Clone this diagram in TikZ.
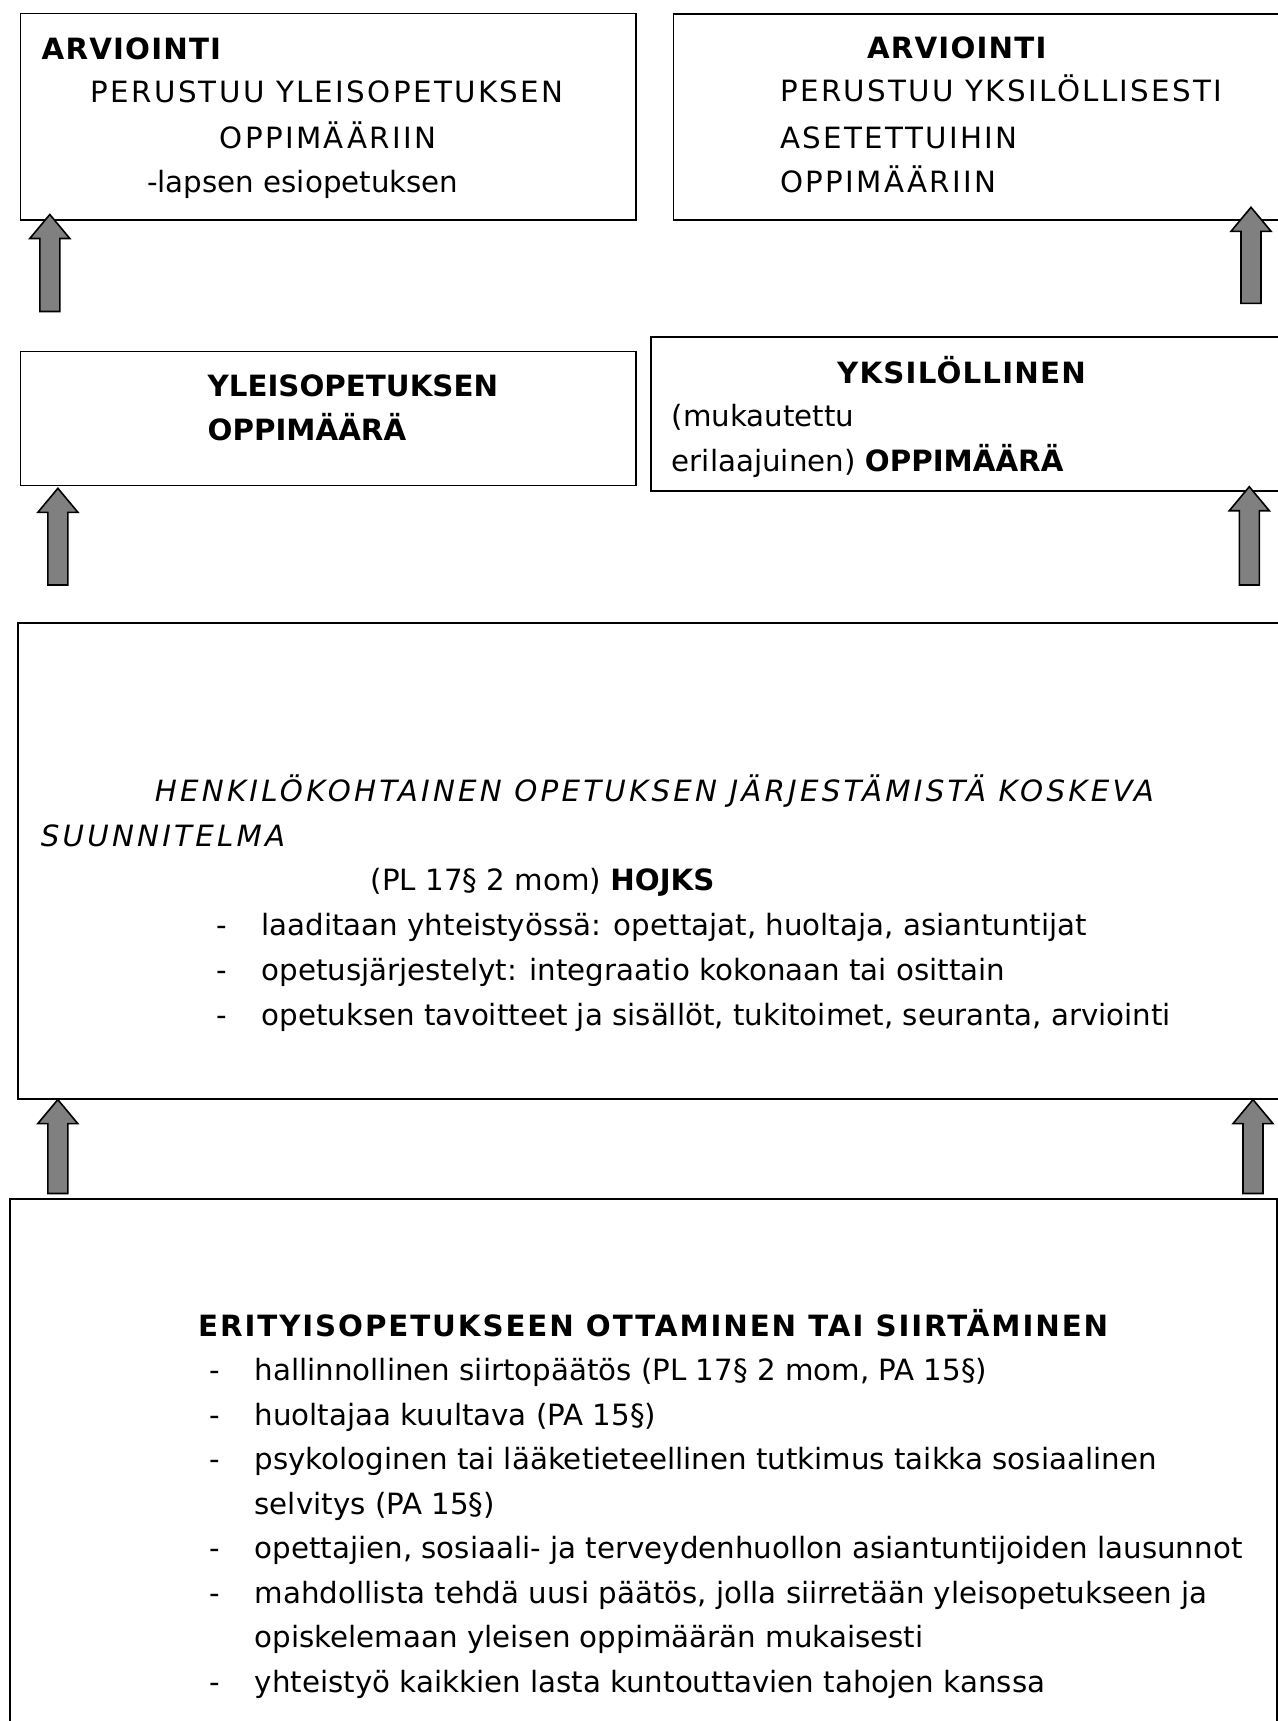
\documentclass[tikz,border=0pt]{standalone}
\usepackage{fontspec}
\setmainfont{DejaVu Sans}
\usetikzlibrary{calc}
\tikzstyle{box}=[draw,line width=1.6pt,anchor=north west,inner sep=0pt]
\tikzstyle{txt}=[anchor=base west,inner sep=0pt,font=\fontsize{29.3}{35}\selectfont]
\tikzstyle{ctxt}=[txt,anchor=base]
\tikzstyle{caps}=[font=\fontsize{29.3}{35}\selectfont\addfontfeature{LetterSpace=8}]
\tikzstyle{bcaps}=[font=\fontsize{29.3}{35}\selectfont\bfseries\addfontfeature{LetterSpace=4}]
\tikzstyle{icaps}=[font=\fontsize{29.3}{35}\selectfont\itshape\addfontfeature{LetterSpace=11}]
\tikzstyle{blockarr}=[draw,line width=1.6pt,fill=gray,line join=miter]
\newcommand{\blockup}[2]{\draw[blockarr] ($(#1)+(-10,0)$) -- ($(#2)+(-10,24)$) -- ($(#2)+(-20,24)$) -- (#2) -- ($(#2)+(20,24)$) -- ($(#2)+(10,24)$) -- ($(#1)+(10,0)$) -- cycle;}
\newcommand{\bul}{\makebox[45.5pt][l]{-}}

\begin{document}
\begin{tikzpicture}[x=1pt,y=-1pt]
\useasboundingbox (0,0) rectangle (1277,1721);
\node[box,minimum width=615.5pt,minimum height=206.6pt] (arvyl) at (19.5,12.7) {};
\node[box,minimum width=700pt,minimum height=206.3pt] (arvyk) at (672.5,13) {};
\node[box,minimum width=615.5pt,minimum height=134pt] (yleis) at (19.5,350.7) {};
\node[box,minimum width=700pt,minimum height=154pt] (yksil) at (650,336) {};
\node[box,minimum width=1300pt,minimum height=476pt] (hojks) at (17.3,622) {};
\node[box,minimum width=1266.7pt,minimum height=600pt] (erit) at (9.3,1198) {};

\node[txt,bcaps] (arvyl1) at (41.5,59.3) {ARVIOINTI};
\node[ctxt,caps] (arvyl2) at (327,102.7) {PERUSTUU YLEISOPETUKSEN};
\node[ctxt,caps] (arvyl3) at (328,148) {OPPIMÄÄRIIN};
\node[txt] (arvyl4) at (147,192.7) {-lapsen esiopetuksen};

\node[ctxt,bcaps] (arvyk1) at (956.7,58.3) {ARVIOINTI};
\node[txt,caps] (arvyk2) at (780,101.7) {PERUSTUU YKSILÖLLISESTI};
\node[txt,caps] (arvyk3) at (780,148.3) {ASETETTUIHIN};
\node[txt,caps] (arvyk4) at (780,192.7) {OPPIMÄÄRIIN};

\node[txt,font=\fontsize{29.3}{35}\selectfont\bfseries] (yleis1) at (207.5,396.7) {YLEISOPETUKSEN};
\node[txt,font=\fontsize{29.3}{35}\selectfont\bfseries] (yleis2) at (207.5,440) {OPPIMÄÄRÄ};

\node[ctxt,bcaps] (yksil1) at (961.5,383.3) {YKSILÖLLINEN};
\node[txt] (yksil2) at (671.7,426.7) {(mukautettu};
\node[txt] (yksil3) at (671.7,471.7) {erilaajuinen) \textbf{OPPIMÄÄRÄ}};

\node[txt,icaps] (hojks1) at (154.7,801.7) {HENKILÖKOHTAINEN OPETUKSEN JÄRJESTÄMISTÄ KOSKEVA};
\node[txt,icaps] (hojks2) at (40.7,846) {SUUNNITELMA};
\node[txt] (hojks3) at (370.5,890) {(PL 17§ 2 mom) \textbf{HOJKS}};
\node[txt] (hojks4) at (215.8,935) {\bul laaditaan yhteistyössä: opettajat, huoltaja, asiantuntijat};
\node[txt] (hojks5) at (215.8,980) {\bul opetusjärjestelyt: integraatio kokonaan tai osittain};
\node[txt] (hojks6) at (215.8,1025) {\bul opetuksen tavoitteet ja sisällöt, tukitoimet, seuranta, arviointi};

\node[txt,font=\fontsize{29.3}{35}\selectfont\bfseries\addfontfeature{LetterSpace=6.5}] (erit1) at (198,1336) {ERITYISOPETUKSEEN OTTAMINEN TAI SIIRTÄMINEN};
\node[txt] (erit2) at (209,1380.5) {\bul hallinnollinen siirtopäätös (PL 17§ 2 mom, PA 15§)};
\node[txt] (erit3) at (209,1425) {\bul huoltajaa kuultava (PA 15§)};
\node[txt] (erit4) at (209,1469.5) {\bul psykologinen tai lääketieteellinen tutkimus taikka sosiaalinen};
\node[txt] (erit5) at (254.5,1514) {selvitys (PA 15§)};
\node[txt] (erit6) at (209,1558.5) {\bul opettajien, sosiaali- ja terveydenhuollon asiantuntijoiden lausunnot};
\node[txt] (erit7) at (209,1603) {\bul mahdollista tehdä uusi päätös, jolla siirretään yleisopetukseen ja};
\node[txt] (erit8) at (254.5,1647.5) {opiskelemaan yleisen oppimäärän mukaisesti};
\node[txt] (erit9) at (209,1692) {\bul yhteistyö kaikkien lasta kuntouttavien tahojen kanssa};

\coordinate (a1tail) at (49.8,311.5);
\coordinate (a1tip) at (49.8,214.5);
\coordinate (a2tail) at (1251,303.3);
\coordinate (a2tip) at (1251,207.3);
\coordinate (a3tail) at (57.9,585);
\coordinate (a3tip) at (57.9,488.3);
\coordinate (a4tail) at (1249.3,585);
\coordinate (a4tip) at (1249.3,486.7);
\coordinate (a5tail) at (57.8,1193.5);
\coordinate (a6tail) at (1253,1193.5);
\blockup{a1tail}{a1tip}
\blockup{a2tail}{a2tip}
\blockup{a3tail}{a3tip}
\blockup{a4tail}{a4tip}
\blockup{a5tail}{a5tail |- hojks.south}
\blockup{a6tail}{a6tail |- hojks.south}
\end{tikzpicture}
\end{document}
